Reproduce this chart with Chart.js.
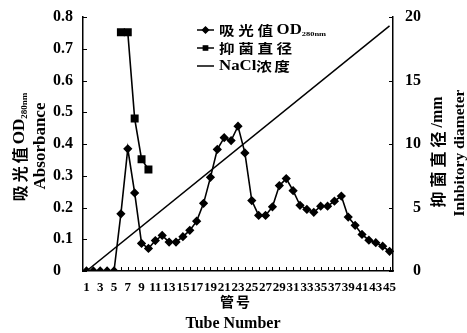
<!DOCTYPE html>
<html>
<head>
<meta charset="utf-8">
<script src="https://cdn.jsdelivr.net/npm/chart.js@4/dist/chart.umd.min.js"></script>
<style>
  body { margin: 0; background: #fff; }
  canvas { display: block; }
</style>
</head>
<body>
<canvas id="tubeChart" width="467" height="333"></canvas>
<script>
"use strict";

// tube numbers on the x axis
let tubes = ['1', '2', '3', '4', '5', '6', '7', '8', '9', '10', '11', '12', '13', '14', '15',
    '16', '17', '18', '19', '20', '21', '22', '23', '24', '25', '26', '27', '28', '29', '30',
    '31', '32', '33', '34', '35', '36', '37', '38', '39', '40', '41', '42', '43', '44', '45'];

// OD280nm absorbance, one per tube
let odValues = [0, 0, 0, 0, 0, 0.18, 0.385, 0.246, 0.087, 0.071, 0.096, 0.112, 0.091, 0.091, 0.108,
    0.128, 0.157, 0.213, 0.295, 0.383, 0.42, 0.411, 0.456, 0.372, 0.222, 0.175, 0.175, 0.202, 0.269, 0.291,
    0.253, 0.207, 0.194, 0.185, 0.204, 0.204, 0.22, 0.236, 0.17, 0.144, 0.115, 0.097, 0.089, 0.078, 0.062];

// inhibitory diameter (mm), only measured for a few tubes
let diaTubes = ['6', '7', '8', '9', '10'];
let diaValues = [18.8, 18.8, 12.0, 8.8, 8.0];

// NaCl gradient, straight line from first to last tube (right axis units)
let naclTubes = ['1', '45'];
let naclValues = [0, 19.3];

let leftTicks = [0, 0.1, 0.2, 0.3, 0.4, 0.5, 0.6, 0.7, 0.8];
let rightTicks = [0, 5, 10, 15, 20];

let serif = '"Liberation Serif", "DejaVu Serif", serif';
let cjk = '"Noto Sans CJK SC", sans-serif';

function pairUp(xs, ys) {
    let out = [];
    for (let i = 0; i < xs.length; i++) {
        out.push({ x: xs[i], y: ys[i] });
    }
    return out;
}

// draws a row of text pieces (different fonts / subscripts), centred on x,y
function drawPieces(ctx, pieces, x, y, rotated) {
    ctx.save();
    ctx.translate(x, y);
    if (rotated) ctx.rotate(-Math.PI / 2);
    ctx.fillStyle = '#000';
    ctx.textBaseline = 'middle';
    ctx.textAlign = 'left';
    let total = 0;
    for (let p of pieces) {
        ctx.font = p.font;
        total += ctx.measureText(p.text).width + (p.gap || 0) * p.text.length;
    }
    let cx = -total / 2;
    for (let p of pieces) {
        ctx.font = p.font;
        if (p.gap) {
            for (let ch of p.text) {
                ctx.fillText(ch, cx, p.dy || 0);
                cx += ctx.measureText(ch).width + p.gap;
            }
        } else {
            ctx.fillText(p.text, cx, p.dy || 0);
            cx += ctx.measureText(p.text).width;
        }
    }
    ctx.restore();
}

// small inward tick marks, titles and the in-plot legend
const decorPlugin = {
    id: 'decor',
    afterDraw(chart) {
        let ctx = chart.ctx;
        let area = chart.chartArea;
        let x = chart.scales.x;
        let y = chart.scales.y;
        let y2 = chart.scales.y2;

        ctx.save();
        ctx.strokeStyle = '#000';
        ctx.lineWidth = 1;
        ctx.beginPath();
        for (let i = 0; i < tubes.length; i++) {
            let px = Math.round(x.getPixelForValue(i)) + 0.5;
            ctx.moveTo(px, area.bottom);
            ctx.lineTo(px, area.bottom - 4);
        }
        for (let v of leftTicks) {
            let py = Math.round(y.getPixelForValue(v)) + 0.5;
            ctx.moveTo(area.left, py);
            ctx.lineTo(area.left + 4, py);
        }
        for (let v of rightTicks) {
            let py = Math.round(y2.getPixelForValue(v)) + 0.5;
            ctx.moveTo(area.right, py);
            ctx.lineTo(area.right - 4, py);
        }
        ctx.stroke();
        ctx.restore();

        // axis titles
        drawPieces(ctx, [
            { text: '吸光值', font: 'bold 16px ' + cjk, gap: 3 },
            { text: 'OD', font: 'bold 17px ' + serif },
            { text: '280nm', font: 'bold 9px ' + serif, dy: 5 }
        ], 20, 147, true);
        drawPieces(ctx, [{ text: 'Absorbance', font: 'bold 17px ' + serif }], 41, 146, true);
        drawPieces(ctx, [
            { text: '抑菌直径', font: 'bold 16px ' + cjk, gap: 4 },
            { text: '/mm', font: 'bold 16px ' + serif }
        ], 438, 152, true);
        drawPieces(ctx, [{ text: 'Inhbitory diameter', font: 'bold 15.5px ' + serif }], 460, 153, true);
        drawPieces(ctx, [{ text: '管号', font: 'bold 14px ' + cjk, gap: 2 }], 236, 302, false);
        drawPieces(ctx, [{ text: 'Tube Number', font: 'bold 16px ' + serif }], 233, 324, false);

        // legend
        let rows = [
            { ds: chart.data.datasets[0], y: 30, pieces: [
                { text: '吸光值', font: 'bold 13px ' + cjk, gap: 3 },
                { text: 'OD', font: 'bold 14px ' + serif },
                { text: '280nm', font: 'bold 7px ' + serif, dy: 4 }] },
            { ds: chart.data.datasets[1], y: 48, pieces: [
                { text: '抑菌直径', font: 'bold 13px ' + cjk, gap: 3 }] },
            { ds: chart.data.datasets[2], y: 66, pieces: [
                { text: 'NaCl', font: 'bold 14px ' + serif },
                { text: '浓度', font: 'bold 13px ' + cjk, gap: 2 }] }
        ];
        for (let row of rows) {
            ctx.save();
            ctx.strokeStyle = '#000';
            ctx.fillStyle = '#000';
            ctx.lineWidth = 1.5;
            ctx.beginPath();
            ctx.moveTo(197, row.y);
            ctx.lineTo(214, row.y);
            ctx.stroke();
            if (row.ds.pointRadius) {
                Chart.helpers.drawPoint(ctx, {
                    pointStyle: row.ds.pointStyle,
                    radius: 3,
                    rotation: 0,
                    borderWidth: 1
                }, 205.5, row.y);
                ctx.fill();
            }
            ctx.restore();
            // text is a bit stretched sideways in the original
            ctx.save();
            ctx.translate(219, row.y);
            ctx.scale(1.2, 1);
            ctx.textBaseline = 'middle';
            ctx.textAlign = 'left';
            ctx.fillStyle = '#000';
            let cx = 0;
            for (let p of row.pieces) {
                ctx.font = p.font;
                for (let ch of p.text) {
                    ctx.fillText(ch, cx, p.dy || 0);
                    cx += ctx.measureText(ch).width + (p.gap || 0);
                }
            }
            ctx.restore();
        }
    }
};

const data = {
    labels: tubes,
    datasets: [{
        label: '吸光值OD280nm',
        data: odValues,
        yAxisID: 'y',
        borderColor: '#000',
        backgroundColor: '#000',
        borderWidth: 1.6,
        pointStyle: 'rectRot',
        pointRadius: 3.5,
        tension: 0
    }, {
        label: '抑菌直径',
        data: pairUp(diaTubes, diaValues),
        yAxisID: 'y2',
        borderColor: '#000',
        backgroundColor: '#000',
        borderWidth: 1.6,
        pointStyle: 'rect',
        pointRadius: 4.5,
        tension: 0
    }, {
        label: 'NaCl浓度',
        data: pairUp(naclTubes, naclValues),
        yAxisID: 'y2',
        borderColor: '#000',
        borderWidth: 1.5,
        pointRadius: 0,
        tension: 0
    }]
};

const config = {
    type: 'line',
    data: data,
    options: {
        responsive: false,
        animation: false,
        layout: { padding: { left: 53, right: 46, top: 17, bottom: 0 } },
        plugins: { legend: { display: false }, tooltip: { enabled: false } },
        scales: {
            x: {
                type: 'category',
                offset: true,
                grid: { display: false, drawTicks: false },
                border: { display: true, color: '#000', width: 1.5 },
                ticks: {
                    autoSkip: false,
                    maxRotation: 0,
                    padding: 9,
                    color: '#000',
                    font: { family: serif, size: 13, weight: 'bold' },
                    callback: function (val, i) { return i % 2 === 0 ? tubes[i] : ''; }
                },
                afterFit: function (s) { s.height = 62; }
            },
            y: {
                position: 'left',
                min: 0,
                max: 0.8,
                grid: { display: false, drawTicks: false },
                border: { display: true, color: '#000', width: 1.5 },
                ticks: {
                    stepSize: 0.1,
                    crossAlign: 'far',
                    padding: 4,
                    color: '#000',
                    font: { family: serif, size: 16, weight: 'bold' },
                    callback: function (v) { return v === 0 ? '0' : v.toFixed(1); }
                },
                afterFit: function (s) { s.width = 30; }
            },
            y2: {
                position: 'right',
                min: 0,
                max: 20,
                grid: { display: false, drawTicks: false },
                border: { display: true, color: '#000', width: 1.5 },
                ticks: {
                    stepSize: 5,
                    crossAlign: 'far',
                    padding: 4,
                    color: '#000',
                    font: { family: serif, size: 16, weight: 'bold' }
                },
                afterFit: function (s) { s.width = 28; }
            }
        }
    },
    plugins: [decorPlugin]
};

const tubeChart = new Chart(document.getElementById('tubeChart').getContext('2d'), config);
</script>
</body>
</html>
